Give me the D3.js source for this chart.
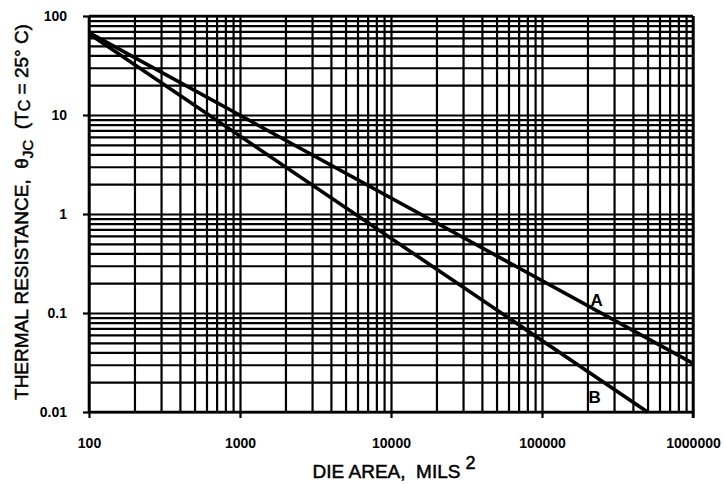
<!DOCTYPE html>
<html><head><meta charset="utf-8">
<script src="https://cdn.jsdelivr.net/npm/d3@7"></script>
<style>
html,body{margin:0;padding:0;background:#fff;}
svg text{font-family:"Liberation Sans",Arial,Helvetica,sans-serif;fill:#000;}
</style></head>
<body><svg id="c" width="725" height="484"></svg>
<script>
const xMajor = [100, 1000, 10000, 100000, 1000000];
const xMajorLabels = ["100", "1000", "10000", "100000", "1000000"];
const yMajor = [0.01, 0.1, 1, 10, 100];
const yMajorLabels = ["0.01", "0.1", "1", "10", "100"];
const seriesNames = ["A", "B"];
const seriesA_x = [100, 1000000];
const seriesA_y = [68, 0.031];
const seriesB_x = [100, 500000];
const seriesB_y = [66, 0.01];

const svg = d3.select("#c");
const L = 89, R = 693, T = 16, B = 412;
const x = d3.scaleLog().domain([100, 1000000]).range([L, R]);
const y = d3.scaleLog().domain([0.01, 100]).range([B, T]);

const xGrid = [];
for (let i = 0; i < xMajor.length - 1; i++) for (let m = 1; m <= 9; m++) xGrid.push(xMajor[i] * m);
xGrid.push(xMajor[xMajor.length - 1]);
const yGrid = [];
for (let i = 0; i < yMajor.length - 1; i++) for (let m = 1; m <= 9; m++) yGrid.push(yMajor[i] * m);
yGrid.push(yMajor[yMajor.length - 1]);

const gx = svg.append("g").attr("transform", `translate(0,${B})`)
  .call(d3.axisBottom(x).tickValues(xGrid).tickSize(-(B - T)).tickFormat(""));
const gy = svg.append("g").attr("transform", `translate(${L},0)`)
  .call(d3.axisLeft(y).tickValues(yGrid).tickSize(-(R - L)).tickFormat(""));
[gx, gy].forEach(g => {
  g.select(".domain").remove();
  g.selectAll("line").attr("stroke", "#000").attr("stroke-width", 2.2);
});

const ax = svg.append("g").attr("transform", `translate(0,${B})`)
  .call(d3.axisBottom(x).tickValues(xMajor).tickSize(6).tickPadding(20)
    .tickFormat((d, i) => xMajorLabels[i]));
const ay = svg.append("g").attr("transform", `translate(${L},0)`)
  .call(d3.axisLeft(y).tickValues(yMajor).tickSize(6).tickPadding(16)
    .tickFormat((d, i) => yMajorLabels[i]));
[ax, ay].forEach(g => {
  g.select(".domain").remove();
  g.selectAll("line").attr("stroke", "#000").attr("stroke-width", 2.2);
  g.selectAll("text").attr("font-size", 14).attr("font-weight", "bold")
    .attr("font-family", "'Liberation Sans', Arial, sans-serif").attr("fill", "#000");
});
// frame
const fr = [[L, T, R, T], [L, B, R, B], [L, T, L, B], [R, T, R, B + 6]];
fr.forEach(f => svg.append("line").attr("x1", f[0]).attr("y1", f[1]).attr("x2", f[2]).attr("y2", f[3])
  .attr("stroke", "#000").attr("stroke-width", 2.6));

// series
const line = d3.line().x(d => x(d[0])).y(d => y(d[1]));
const dataA = seriesA_x.map((v, i) => [v, seriesA_y[i]]);
const dataB = seriesB_x.map((v, i) => [v, seriesB_y[i]]);
[dataA, dataB].forEach(d => {
  svg.append("path").attr("d", line(d)).attr("fill", "none").attr("stroke", "#000").attr("stroke-width", 3.6);
});

// series labels
svg.append("text").attr("x", x(200000) + 3).attr("y", y(0.1) - 7)
  .attr("font-size", 17).attr("font-weight", "bold").text(seriesNames[0]);
svg.append("text").attr("x", x(200000) + 1).attr("y", y(0.01) - 9)
  .attr("font-size", 17).attr("font-weight", "bold").text(seriesNames[1]);

// x title
const xt = svg.append("text").attr("x", 394).attr("y", 478).attr("text-anchor", "middle")
  .attr("font-size", 19).attr("stroke", "#000").attr("stroke-width", 0.5)
  .attr("xml:space", "preserve").style("white-space", "pre");
xt.append("tspan").text("DIE AREA,  MILS");
xt.append("tspan").attr("font-size", 18).attr("dx", 5).attr("dy", -9).text("2");

// y title
const yt = svg.append("text").attr("transform", "translate(28,212) rotate(-90)")
  .attr("text-anchor", "middle").attr("font-size", 19).attr("stroke", "#000").attr("stroke-width", 0.5)
  .attr("xml:space", "preserve").style("white-space", "pre");
yt.append("tspan").text("THERMAL RESISTANCE,  θ");
yt.append("tspan").attr("font-size", 15).attr("dy", 5).text("JC");
yt.append("tspan").attr("dy", -5).text("  (T");
yt.append("tspan").attr("font-size", 16).attr("dy", 2).text("C");
yt.append("tspan").attr("dy", -2).text(" = 25° C)");
</script></body></html>
